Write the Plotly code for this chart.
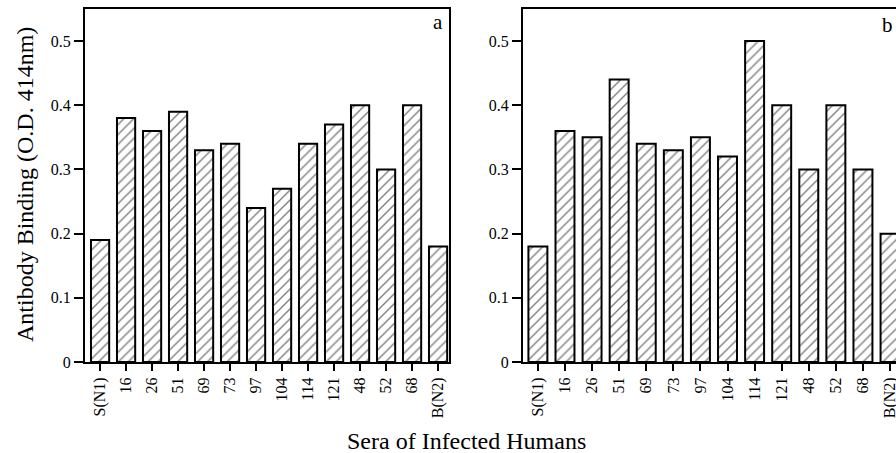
import plotly.graph_objects as go

categories = ["S(N1)", "16", "26", "51", "69", "73", "97", "104", "114", "121", "48", "52", "68", "B(N2)"]
values_a = [0.19, 0.38, 0.36, 0.39, 0.33, 0.34, 0.24, 0.27, 0.34, 0.37, 0.40, 0.30, 0.40, 0.18]
values_b = [0.18, 0.36, 0.35, 0.44, 0.34, 0.33, 0.35, 0.32, 0.50, 0.40, 0.30, 0.40, 0.30, 0.20]
y_ticks = [0, 0.1, 0.2, 0.3, 0.4, 0.5]
y_tick_labels = ["0", "0.1", "0.2", "0.3", "0.4", "0.5"]

W, H = 896, 453
FONT = "Liberation Serif"

def px(x):
    return x / W

def py(y):
    return (H - y) / H

def bar(vals, xa, ya):
    return go.Bar(
        x=list(range(len(categories))), y=vals, xaxis=xa, yaxis=ya, width=0.7,
        marker=dict(color="white", line=dict(color="black", width=2),
                    pattern=dict(shape="/", size=7, solidity=0.2,
                                 fgcolor="black", bgcolor="white")),
        showlegend=False, hoverinfo="skip",
    )

fig = go.Figure([bar(values_a, "x", "y"), bar(values_b, "x2", "y2")])

ydom = [py(362), py(9)]

xcommon = dict(
    tickmode="array", tickvals=list(range(len(categories))), ticktext=categories,
    tickangle=-90, ticks="outside", ticklen=7, tickwidth=1.5, tickcolor="black",
    showline=True, linecolor="black", linewidth=2, mirror=True,
    showgrid=False, zeroline=False, automargin=False, ticklabeloverflow="allow",
    tickfont=dict(family=FONT, size=16, color="black"),
)
ycommon = dict(
    range=[0, 0.55], tickmode="array", tickvals=y_ticks, ticktext=y_tick_labels,
    ticks="outside", ticklen=9, tickwidth=1.5, tickcolor="black",
    showline=True, linecolor="black", linewidth=2,
    showgrid=False, zeroline=False, automargin=False,
    tickfont=dict(family=FONT, size=16, color="black"), domain=ydom,
)

fig.update_layout(
    width=W, height=H, margin=dict(l=0, r=0, t=0, b=0),
    paper_bgcolor="white", plot_bgcolor="white",
    xaxis=dict(xcommon, domain=[px(85), px(449)], range=[-0.58, 13.42], anchor="y"),
    yaxis=dict(ycommon, mirror=True, anchor="x"),
    xaxis2=dict(xcommon, domain=[px(523), 1.0], range=[-0.55, 13.22], anchor="y2"),
    yaxis2=dict(ycommon, mirror=False, anchor="x2"),
    annotations=[
        dict(text="Antibody Binding (O.D. 414nm)", x=px(25), y=py(185),
             xref="paper", yref="paper", textangle=-90, showarrow=False,
             font=dict(family=FONT, size=24, color="black"),
             xanchor="center", yanchor="middle"),
        dict(text="Sera of Infected Humans", x=px(467), y=py(441),
             xref="paper", yref="paper", showarrow=False,
             font=dict(family=FONT, size=24, color="black"),
             xanchor="center", yanchor="middle"),
        dict(text="a", x=px(438), y=py(22), xref="paper", yref="paper",
             showarrow=False, font=dict(family=FONT, size=21, color="black"),
             xanchor="center", yanchor="middle"),
        dict(text="b", x=px(887), y=py(25), xref="paper", yref="paper",
             showarrow=False, font=dict(family=FONT, size=21, color="black"),
             xanchor="center", yanchor="middle"),
    ],
)

fig.write_html(
    "out.html",
    config={"displayModeBar": False},
    post_script="document.body.style.margin='0';document.body.style.overflow='hidden';",
)
